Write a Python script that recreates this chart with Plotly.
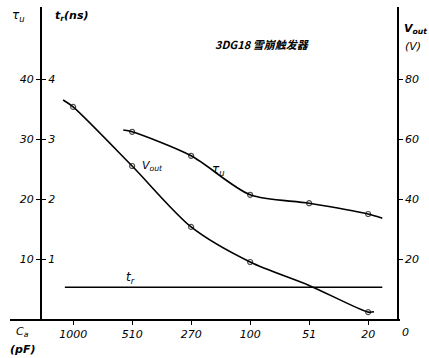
import plotly.graph_objects as go

# ---- data ----
categories = ["1000", "510", "270", "100", "51", "20"]
cat_pos = [0, 1, 2, 3, 4, 5]

# Vout (V), right axis; curve extends slightly beyond first/last points
vout_x = [-0.17, 0, 1, 2, 3, 4, 5, 5.1]
vout_y = [73.0, 70.7, 51.0, 30.7, 19.0, 11.2, 2.3, 2.4]
vout_marker = [0, 5, 5, 5, 5, 0, 5, 0]

# tau_u (ns), left axis
tau_x = [0.85, 1, 2, 3, 4, 5, 5.24]
tau_y = [31.5, 31.2, 27.2, 20.7, 19.3, 17.5, 16.8]
tau_marker = [0, 5, 5, 5, 5, 5, 0]

# t_r (ns), left inner axis
tr_x = [-0.14, 0, 1, 2, 3, 4, 5, 5.24]
tr_y = [0.53, 0.53, 0.53, 0.53, 0.53, 0.53, 0.53, 0.53]

left_ticks = [10, 20, 30, 40]
tr_ticks = [1, 2, 3, 4]
right_ticks = [20, 40, 60, 80]

# ---- layout geometry ----
W, H = 429, 358
ML, MR, MT, MB = 10, 29, 7, 39
PW, PH = W - ML - MR, H - MT - MB


def px(x):
    return (x - ML) / PW


def py(y):
    return (H - MB - y) / PH


FONT = "DejaVu Sans"
ifont = dict(family=FONT, size=11, color="black", style="italic")

fig = go.Figure()
fig.add_trace(go.Scatter(
    x=vout_x, y=vout_y, yaxis="y2", mode="lines+markers",
    line=dict(color="black", width=1.6, shape="spline", smoothing=0.8),
    marker=dict(symbol="circle-open", size=vout_marker, color="black", line=dict(width=1.2)),
    showlegend=False, hoverinfo="skip"))
fig.add_trace(go.Scatter(
    x=tau_x, y=tau_y, yaxis="y", mode="lines+markers",
    line=dict(color="black", width=1.6, shape="spline", smoothing=0.8),
    marker=dict(symbol="circle-open", size=tau_marker, color="black", line=dict(width=1.2)),
    showlegend=False, hoverinfo="skip"))
fig.add_trace(go.Scatter(
    x=tr_x, y=tr_y, yaxis="y3", mode="lines",
    line=dict(color="black", width=1.6),
    showlegend=False, hoverinfo="skip"))

axis_common = dict(showgrid=False, zeroline=False, linecolor="black",
                   tickcolor="black", tickfont=ifont)

fig.update_layout(
    width=W, height=H,
    margin=dict(l=ML, r=MR, t=MT, b=MB),
    paper_bgcolor="white", plot_bgcolor="white",
    xaxis=dict(range=[-1.07, 5.54], tickvals=cat_pos, ticktext=categories,
               showline=True, linewidth=1.6, ticks="outside", ticklen=4,
               tickwidth=1.2, **axis_common),
    yaxis=dict(range=[0, 52], anchor="free", position=px(41), side="left",
               tickvals=left_ticks, showline=True, linewidth=2,
               ticks="outside", ticklen=4, tickwidth=1.2, **axis_common),
    yaxis3=dict(range=[0, 5.2], overlaying="y", anchor="free", position=px(41),
                side="right", tickvals=tr_ticks, showline=False,
                ticks="outside", ticklen=4, tickwidth=1.2, **axis_common),
    yaxis2=dict(range=[0, 104], overlaying="y", anchor="free", position=px(398),
                side="right", tickvals=right_ticks, showline=True, linewidth=1.6,
                ticks="outside", ticklen=4, tickwidth=1.2, **axis_common),
    yaxis4=dict(range=[0, 104], overlaying="y", anchor="free", position=px(398),
                side="left", tickvals=right_ticks, showticklabels=False,
                showline=False, ticks="outside", ticklen=4, tickwidth=1.2,
                showgrid=False, zeroline=False, tickcolor="black"),
)


def ann(text, x, y, size=11, family=FONT, style="italic", weight="normal"):
    fig.add_annotation(text=text, x=px(x), y=py(y), xref="paper", yref="paper",
                       showarrow=False, xanchor="center", yanchor="middle",
                       font=dict(family=family, size=size, color="black",
                                 style=style, weight=weight))


ann("τ<sub>u</sub>", 18, 16, size=12)
ann("t<sub>r</sub>(ns)", 72, 16, size=11, weight="bold")
ann("3DG18 雪崩触发器", 262, 44, size=11,
    family="Noto Sans CJK SC, " + FONT, weight="bold")
ann("V<sub>out</sub>", 415, 29, size=11, weight="bold")
ann("(V)", 413, 46, size=11)
ann("V<sub>out</sub>", 152, 166, size=11)
ann("τ<sub>u</sub>", 218, 170, size=12)
ann("t<sub>r</sub>", 130, 278, size=12)
ann("C<sub>a</sub>", 22, 332, size=11)
ann("(pF)", 22, 349, size=11, weight="bold")
ann("0", 405, 332, size=11)

fig.write_html("out.html")
